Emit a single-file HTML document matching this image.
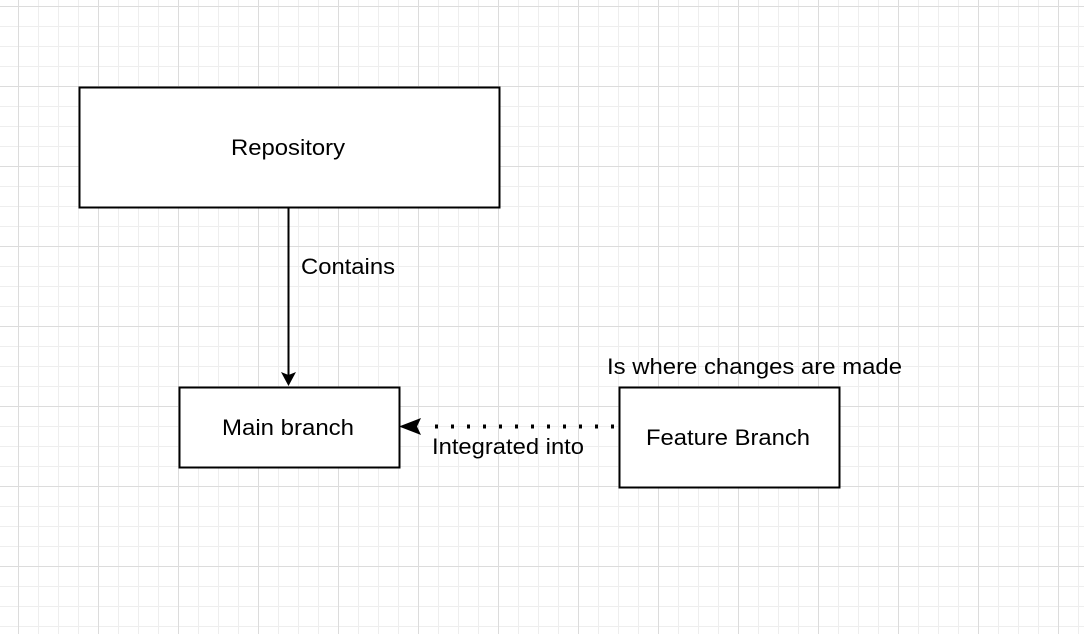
<!DOCTYPE html>
<html><head><style>
html,body{margin:0;padding:0;}
body{width:1084px;height:634px;overflow:hidden;background:#fff;
background-image:
linear-gradient(to right,#dcdcdc 1px,transparent 1px),
linear-gradient(to bottom,#dcdcdc 1px,transparent 1px),
linear-gradient(to right,#eeeeee 1px,transparent 1px),
linear-gradient(to bottom,#eeeeee 1px,transparent 1px);
background-size:80px 80px,80px 80px,20px 20px,20px 20px;
background-position:18px 6px,18px 6px,18px 6px,18px 6px;
font-family:"Liberation Sans",Helvetica,sans-serif;}
</style></head><body>
<svg width="1084" height="634" style="position:absolute;left:0;top:0" font-family="Liberation Sans, Helvetica, sans-serif" font-size="22">
<rect x="79.5" y="87.5" width="420" height="120" fill="#fff" stroke="#000" stroke-width="2"/>
<text x="231" y="155" textLength="114" lengthAdjust="spacingAndGlyphs">Repository</text>
<rect x="179.5" y="387.5" width="220" height="80" fill="#fff" stroke="#000" stroke-width="2"/>
<text x="222" y="435" textLength="132" lengthAdjust="spacingAndGlyphs">Main branch</text>
<rect x="619.5" y="387.5" width="220" height="100" fill="#fff" stroke="#000" stroke-width="2"/>
<text x="646" y="445" textLength="164" lengthAdjust="spacingAndGlyphs">Feature Branch</text>
<line x1="288.5" y1="208" x2="288.5" y2="376" stroke="#000" stroke-width="2"/>
<polygon points="281,372 288.5,386 296,372 288.5,375" fill="#000"/>
<line x1="614" y1="426.5" x2="425" y2="426.5" stroke="#000" stroke-width="4" stroke-dasharray="3,13"/>
<polygon points="399,426.5 421,418 417,426.5 421,435" fill="#000"/>
<text x="301" y="274" textLength="94" lengthAdjust="spacingAndGlyphs">Contains</text>
<text x="432" y="454" textLength="152" lengthAdjust="spacingAndGlyphs">Integrated into</text>
<text x="607" y="374" textLength="295" lengthAdjust="spacingAndGlyphs">Is where changes are made</text>
</svg>
</body></html>
